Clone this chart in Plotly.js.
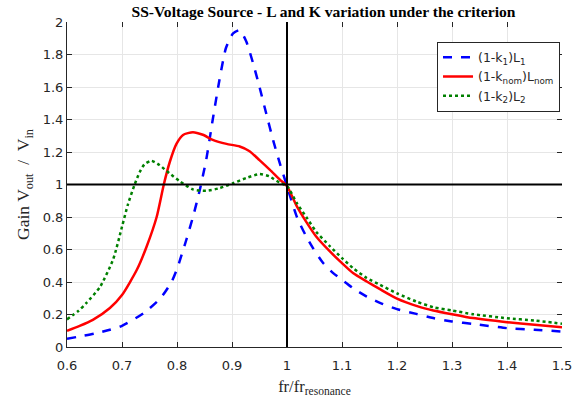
<!DOCTYPE html>
<html>
<head>
<meta charset="utf-8">
<script src="https://cdn.plot.ly/plotly-3.0.1.min.js"></script>
<style>html,body{margin:0;padding:0;background:#fff}#plot{width:586px;height:403px}</style>
</head>
<body>
<div id="plot"></div>
<script>
// Series 1: (1-k1)L1
var x1 = [0.60,0.623,0.65,0.678,0.70,0.74,0.77,0.79,0.80,0.817,0.829,0.841,0.853,0.865,0.877,0.889,0.902,0.914,0.926,0.938,0.950,0.962,0.975,0.987,1.000,1.018,1.035,1.047,1.065,1.084,1.10,1.12,1.145,1.17,1.20,1.235,1.266,1.30,1.34,1.40,1.45,1.50];
var y1 = [0.05,0.065,0.082,0.106,0.13,0.21,0.30,0.40,0.48,0.66,0.80,0.96,1.15,1.40,1.64,1.84,1.93,1.95,1.88,1.75,1.60,1.44,1.27,1.13,0.99,0.80,0.68,0.61,0.52,0.455,0.413,0.362,0.31,0.27,0.233,0.204,0.178,0.157,0.141,0.116,0.106,0.095];
// Series 2: (1-knom)Lnom
var x2 = [0.60,0.623,0.647,0.678,0.70,0.727,0.745,0.763,0.776,0.787,0.799,0.811,0.829,0.847,0.865,0.89,0.914,0.932,0.950,0.969,0.987,1.00,1.018,1.035,1.053,1.078,1.10,1.12,1.145,1.169,1.20,1.238,1.266,1.30,1.338,1.40,1.45,1.50];
var y2 = [0.10,0.13,0.167,0.24,0.32,0.475,0.62,0.80,1.0,1.14,1.25,1.305,1.322,1.306,1.275,1.25,1.234,1.205,1.15,1.09,1.03,0.99,0.865,0.77,0.68,0.588,0.516,0.455,0.403,0.356,0.298,0.25,0.225,0.202,0.178,0.153,0.137,0.122];
// Series 3: (1-k2)L2
var x3 = [0.60,0.62,0.635,0.66,0.684,0.70,0.711,0.723,0.732,0.741,0.7535,0.768,0.786,0.805,0.829,0.853,0.877,0.902,0.926,0.95,0.968,0.987,1.00,1.018,1.035,1.053,1.078,1.10,1.12,1.145,1.169,1.20,1.235,1.266,1.30,1.338,1.40,1.45,1.50];
var y3 = [0.17,0.22,0.27,0.37,0.54,0.74,0.88,1.0,1.075,1.125,1.146,1.12,1.07,1.02,0.97,0.961,0.977,1.008,1.04,1.064,1.05,1.01,0.99,0.885,0.80,0.71,0.62,0.547,0.486,0.424,0.383,0.33,0.28,0.245,0.225,0.202,0.177,0.163,0.143];

var names = ['(1-k<sub>1</sub>)L<sub>1</sub>','(1-k<sub>nom</sub>)L<sub>nom</sub>','(1-k<sub>2</sub>)L<sub>2</sub>'];
var xTicks = [0.6,0.7,0.8,0.9,1,1.1,1.2,1.3,1.4,1.5];
var yTicks = [0,0.2,0.4,0.6,0.8,1,1.2,1.4,1.6,1.8,2];

var traces = [
  {x:x1,y:y1,name:names[0],mode:'lines',line:{color:'#0000ff',width:2.5,dash:'dash',shape:'spline',smoothing:0.6}},
  {x:x2,y:y2,name:names[1],mode:'lines',line:{color:'#ff0000',width:2.5,dash:'solid',shape:'spline',smoothing:0.6}},
  {x:x3,y:y3,name:names[2],mode:'lines',line:{color:'#008000',width:2.5,dash:'dot',shape:'spline',smoothing:0.6}},
  {x:[0.6,1.5],y:[0,0],xaxis:'x2',yaxis:'y2',mode:'lines',line:{width:0},showlegend:false,hoverinfo:'skip'}
];

var tickFont = {family:'DejaVu Sans, sans-serif',size:13,color:'#262626'};
var serif = 'Liberation Serif, Times New Roman, serif';
var layout = {
  width:586,height:403,
  margin:{l:67,r:24,t:22,b:56},
  paper_bgcolor:'#fff',plot_bgcolor:'#fff',
  showlegend:true,
  title:{text:'<b>SS-Voltage Source - L and K variation under the criterion</b>',font:{family:serif,size:15.6,color:'#000'},x:0.552,xanchor:'center',y:0.972,yanchor:'middle'},
  xaxis:{range:[0.6,1.5],tickvals:xTicks,ticktext:xTicks.map(String),ticks:'inside',ticklen:5,tickcolor:'#262626',ticklabelstandoff:6,
    showline:true,linecolor:'#262626',linewidth:1,showgrid:true,gridcolor:'#e6e6e6',zeroline:false,tickfont:tickFont,
    title:{text:'fr/fr<sub>resonance</sub>',font:{family:serif,size:16.5,color:'#262626'},standoff:8}},
  yaxis:{range:[0,2],tickvals:yTicks,ticktext:yTicks.map(String),ticks:'inside',ticklen:5,tickcolor:'#262626',
    showline:true,linecolor:'#262626',linewidth:1,showgrid:true,gridcolor:'#e6e6e6',zeroline:false,tickfont:tickFont,
    title:{text:'Gain V<sub>out</sub>&nbsp; / &nbsp;V<sub>in</sub>',font:{family:serif,size:17.5,color:'#262626'},standoff:8}},
  xaxis2:{overlaying:'x',side:'top',range:[0.6,1.5],tickvals:xTicks,ticks:'inside',ticklen:5,tickcolor:'#262626',showticklabels:false,showgrid:false,zeroline:false,showline:false,anchor:'y2'},
  yaxis2:{overlaying:'y',side:'right',range:[0,2],tickvals:yTicks,ticks:'inside',ticklen:5,tickcolor:'#262626',showticklabels:false,showgrid:false,zeroline:false,showline:false,anchor:'x2'},
  shapes:[
    {type:'line',xref:'x',yref:'paper',x0:1,x1:1,y0:0,y1:1,line:{color:'#000',width:2}},
    {type:'line',xref:'paper',yref:'y',x0:0,x1:1,y0:1,y1:1,line:{color:'#000',width:2}}
  ],
  legend:{x:0.996,xanchor:'right',y:0.94,yanchor:'top',bgcolor:'#fff',bordercolor:'#262626',borderwidth:1,
    font:{family:'DejaVu Sans, sans-serif',size:12.5,color:'#262626'},tracegroupgap:0,itemwidth:30}
};
Plotly.newPlot('plot',traces,layout,{displayModeBar:false,staticPlot:true});
</script>
</body>
</html>
